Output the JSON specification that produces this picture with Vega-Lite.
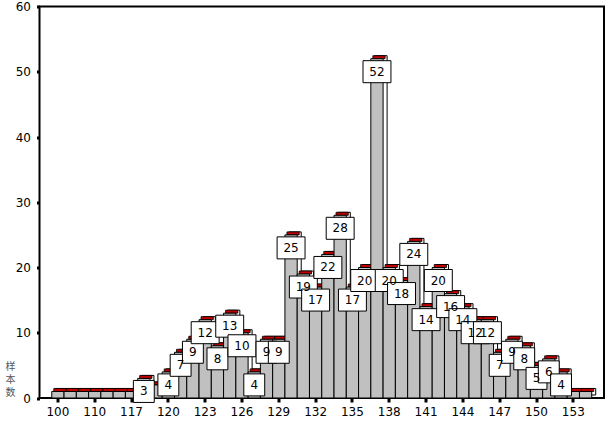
{
  "$schema": "https://vega.github.io/schema/vega-lite/v6.json",
  "width": 564.5,
  "height": 391.5,
  "autosize": {"type": "none"},
  "padding": {"left": 39.5, "top": 6.5, "right": 8, "bottom": 29},
  "background": "white",
  "config": {
    "view": {"stroke": "#000", "strokeWidth": 2},
    "font": "DejaVu Sans"
  },
  "data": {
    "values": [
      {"height": 100, "count": 1}, {"height": 103, "count": 1}, {"height": 107, "count": 1},
      {"height": 110, "count": 1}, {"height": 112, "count": 1}, {"height": 115, "count": 1},
      {"height": 117, "count": 1}, {"height": 118, "count": 3}, {"height": 119, "count": 2},
      {"height": 120, "count": 4}, {"height": 121, "count": 7}, {"height": 122, "count": 9},
      {"height": 123, "count": 12}, {"height": 124, "count": 8}, {"height": 125, "count": 13},
      {"height": 126, "count": 10}, {"height": 127, "count": 4}, {"height": 128, "count": 9},
      {"height": 129, "count": 9}, {"height": 130, "count": 25}, {"height": 131, "count": 19},
      {"height": 132, "count": 17}, {"height": 133, "count": 22}, {"height": 134, "count": 28},
      {"height": 135, "count": 17}, {"height": 136, "count": 20}, {"height": 137, "count": 52},
      {"height": 138, "count": 20}, {"height": 139, "count": 18}, {"height": 140, "count": 24},
      {"height": 141, "count": 14}, {"height": 142, "count": 20}, {"height": 143, "count": 16},
      {"height": 144, "count": 14}, {"height": 145, "count": 12}, {"height": 146, "count": 12},
      {"height": 147, "count": 7}, {"height": 148, "count": 9}, {"height": 149, "count": 8},
      {"height": 150, "count": 5}, {"height": 151, "count": 6}, {"height": 152, "count": 4},
      {"height": 153, "count": 1}, {"height": 154, "count": 1}
    ]
  },
  "encoding": {
    "x": {
      "field": "height",
      "type": "ordinal",
      "sort": "ascending",
      "scale": {"paddingInner": 0, "paddingOuter": 1.277},
      "axis": {
        "title": null,
        "values": [100, 110, 117, 120, 123, 126, 129, 132, 135, 138, 141, 144, 147, 150, 153],
        "labelAngle": 0,
        "domain": false,
        "tickColor": "#000",
        "tickSize": 4,
        "tickWidth": 3,
        "labelPadding": 4,
        "labelFontSize": 12,
        "labelColor": "#000",
        "labelFont": "DejaVu Sans"
      }
    },
    "y": {
      "field": "count",
      "type": "quantitative",
      "scale": {"domain": [0, 60]},
      "axis": {
        "values": [0, 10, 20, 30, 40, 50, 60],
        "grid": false,
        "domain": false,
        "tickColor": "#000",
        "tickSize": 3,
        "tickWidth": 3,
        "labelPadding": 6,
        "labelFontSize": 12,
        "labelColor": "#000",
        "labelFont": "DejaVu Sans",
        "title": ["样", "本", "数"],
        "titleAngle": 0,
        "titleX": -29.5,
        "titleY": 355,
        "titleAlign": "center",
        "titleBaseline": "top",
        "titleFont": "Noto Sans CJK SC",
        "titleFontSize": 10,
        "titleFontWeight": "normal",
        "titleLineHeight": 13,
        "titleColor": "#555"
      }
    }
  },
  "layer": [
    {
      "mark": {"type": "bar", "xOffset": 4, "yOffset": -3, "y2Offset": -3, "fill": "white", "stroke": "#000", "strokeWidth": 1}
    },
    {
      "mark": {"type": "bar", "xOffset": 2, "yOffset": -3, "fill": "#c00000", "stroke": "#000", "strokeWidth": 0.8},
      "encoding": {"y2": {"field": "count"}}
    },
    {
      "mark": {"type": "bar", "fill": "#c0c0c0", "stroke": "#000", "strokeWidth": 1}
    },
    {
      "transform": [{"filter": "datum.count >= 3"}],
      "mark": {"type": "point", "filled": true, "fill": "white", "stroke": "#000", "strokeWidth": 1, "opacity": 1, "size": 484, "yOffset": 13},
      "encoding": {
        "shape": {
          "condition": {"test": "datum.count >= 10", "value": "M-1.27,-1L1.27,-1L1.27,1L-1.27,1Z"},
          "value": "M-0.95,-1L0.95,-1L0.95,1L-0.95,1Z"
        }
      }
    },
    {
      "transform": [{"filter": "datum.count >= 3"}],
      "mark": {"type": "text", "yOffset": 13, "baseline": "middle", "align": "center", "fontSize": 12, "font": "DejaVu Sans", "color": "#000"},
      "encoding": {"text": {"field": "count", "type": "quantitative"}}
    }
  ]
}
